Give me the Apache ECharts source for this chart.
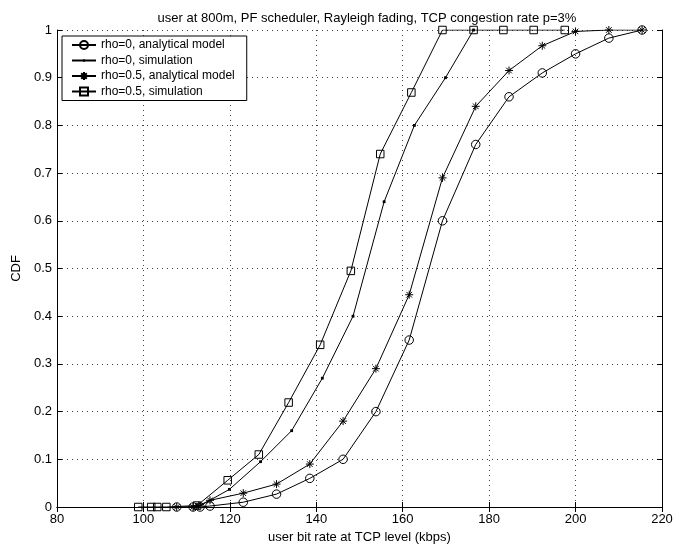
<!DOCTYPE html>
<html>
<head>
<meta charset="utf-8">
<script src="https://cdn.jsdelivr.net/npm/echarts@6/dist/echarts.min.js"></script>
<style>
  html, body { margin: 0; padding: 0; background: #fff; }
  #chart { width: 678px; height: 549px; }
</style>
</head>
<body>
<div id="chart"></div>
<script>
var myChart = echarts.init(document.getElementById('chart'));

// [bit rate kbps, CDF]
var rho0Model = [[107.7, 0], [111.5, 0], [113.1, 0], [115.4, 0.002], [123.1, 0.01], [130.8, 0.027],
    [138.5, 0.06], [146.2, 0.1], [153.8, 0.2], [161.5, 0.35], [169.2, 0.6], [176.9, 0.76],
    [184.6, 0.86], [192.3, 0.91], [200, 0.95], [207.7, 0.983], [215.4, 1]];
var rho0Sim = [[112.6, 0], [119.9, 0.037], [127.1, 0.095], [134.3, 0.16], [141.4, 0.27],
    [148.5, 0.4], [155.7, 0.64], [162.7, 0.8], [169.9, 0.9], [176.4, 1]];
var rho05Model = [[107.7, 0], [111.5, 0], [112.8, 0.003], [115.4, 0.014], [123.1, 0.029], [130.8, 0.048],
    [138.5, 0.09], [146.2, 0.18], [153.8, 0.29], [161.5, 0.445], [169.2, 0.69], [176.9, 0.84],
    [184.6, 0.915], [192.3, 0.967], [200, 0.997], [207.7, 1], [215.4, 1]];
var rho05Sim = [[98.8, 0], [101.8, 0], [103.2, 0], [105.3, 0], [112.4, 0.003], [119.5, 0.056],
    [126.7, 0.11], [133.6, 0.219], [140.9, 0.34], [148, 0.495], [154.8, 0.74], [162, 0.869],
    [169.2, 1], [176.4, 1], [183.3, 1], [190.3, 1], [197.5, 1]];

var names = ['rho=0, analytical model', 'rho=0, simulation', 'rho=0.5, analytical model', 'rho=0.5, simulation'];

var font = 'Liberation Sans, Arial, sans-serif';
var starPath = 'path://M5,0L5,10M0,5L10,5M1.5,1.5L8.5,8.5M8.5,1.5L1.5,8.5';
// small dot inside a 10x10 box so the legend icon stays small too
var dotPath = 'path://M0,0M10,10M3.6,3.6L6.4,3.6L6.4,6.4L3.6,6.4Z';

function mkSeries(name, data, symbol, size, filled) {
    return {
        name: name,
        type: 'line',
        data: data,
        symbol: symbol,
        symbolSize: size,
        showAllSymbol: true,
        lineStyle: {color: '#000', width: 1},
        itemStyle: {
            color: filled ? '#000' : 'transparent',
            borderColor: '#000',
            borderWidth: filled ? 0 : 1
        },
        emphasis: {disabled: true}
    };
}

var gridLine = {show: true, lineStyle: {color: '#444', width: 1, type: [1, 4]}};

var option = {
    animation: false,
    backgroundColor: '#fff',
    title: {
        text: 'user at 800m, PF scheduler, Rayleigh fading, TCP congestion rate p=3%',
        left: 362,
        textAlign: 'center',
        top: 7,
        textStyle: {fontFamily: font, fontSize: 13, fontWeight: 'normal', color: '#000'}
    },
    legend: {
        orient: 'vertical',
        left: 62,
        top: 36,
        padding: [3, 12, 3, 9],
        itemGap: 3.5,
        itemWidth: 24,
        itemHeight: 10,
        borderColor: '#000',
        borderWidth: 1,
        backgroundColor: '#fff',
        textStyle: {fontFamily: font, fontSize: 12, color: '#000'},
        data: names
    },
    grid: {left: 57, right: 16, top: 30, bottom: 40, containLabel: false},
    xAxis: [{
        type: 'value',
        min: 80, max: 220, interval: 20,
        name: 'user bit rate at TCP level (kbps)',
        nameLocation: 'middle',
        nameGap: 24,
        nameTextStyle: {fontFamily: font, fontSize: 13, color: '#000'},
        axisLine: {lineStyle: {color: '#000', width: 1}},
        axisTick: {inside: true, length: 5, lineStyle: {color: '#000'}},
        axisLabel: {fontFamily: font, fontSize: 13, color: '#000', margin: 6},
        splitLine: gridLine
    }, {
        type: 'value',
        position: 'top',
        min: 80, max: 220, interval: 20,
        axisLine: {show: true, lineStyle: {color: '#000', width: 1}},
        axisTick: {show: true, inside: true, length: 5, lineStyle: {color: '#000'}},
        axisLabel: {show: false},
        splitLine: {show: false}
    }],
    yAxis: [{
        type: 'value',
        min: 0, max: 1, interval: 0.1,
        name: 'CDF',
        nameLocation: 'middle',
        nameGap: 30,
        nameTextStyle: {fontFamily: font, fontSize: 13, color: '#000'},
        axisLine: {show: true, lineStyle: {color: '#000', width: 1}},
        axisTick: {show: true, inside: true, length: 5, lineStyle: {color: '#000'}},
        axisLabel: {
            fontFamily: font, fontSize: 13, color: '#000', margin: 5,
            formatter: function (v) { return String(+v.toFixed(1)); }
        },
        splitLine: gridLine
    }, {
        type: 'value',
        position: 'right',
        min: 0, max: 1, interval: 0.1,
        axisLine: {show: true, lineStyle: {color: '#000', width: 1}},
        axisTick: {show: true, inside: true, length: 5, lineStyle: {color: '#000'}},
        axisLabel: {show: false},
        splitLine: {show: false}
    }],
    series: [
        mkSeries(names[0], rho0Model, 'circle', 8.5, false),
        mkSeries(names[1], rho0Sim, dotPath, 10, true),
        mkSeries(names[2], rho05Model, starPath, 8, false),
        mkSeries(names[3], rho05Sim, 'rect', 7.5, false)
    ]
};

myChart.setOption(option);
</script>
</body>
</html>
